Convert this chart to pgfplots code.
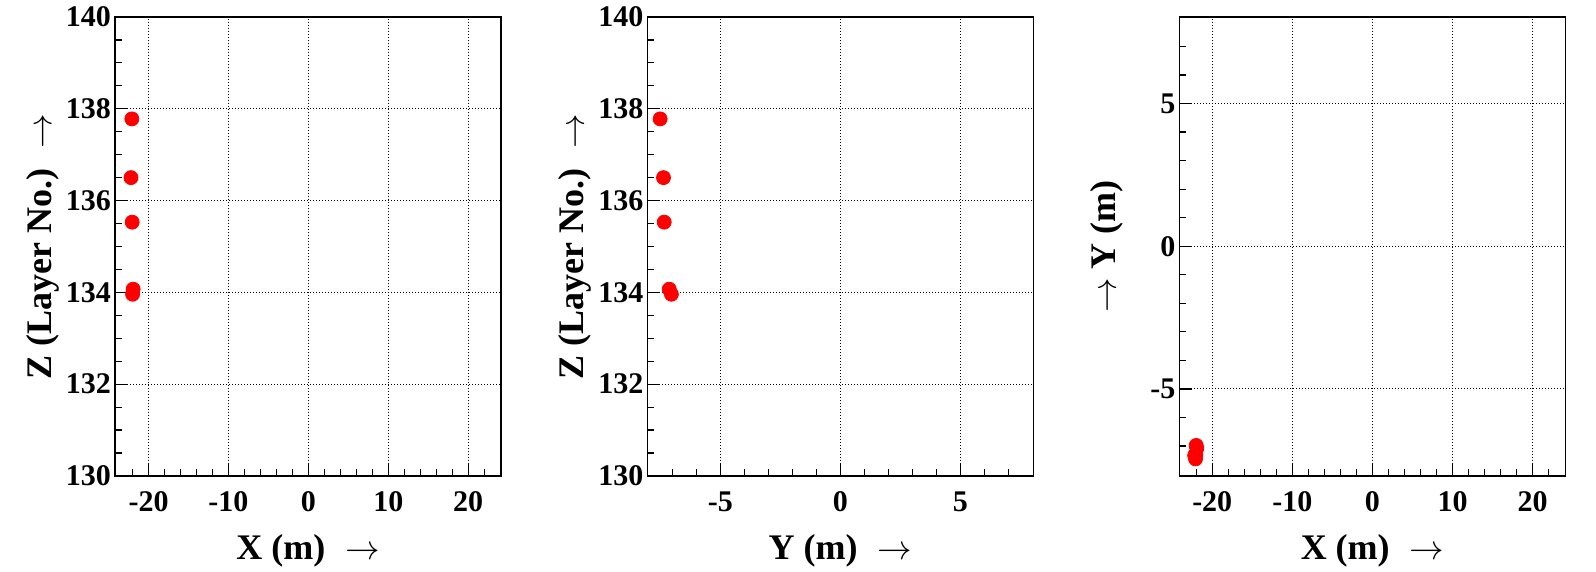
\documentclass[border=0pt]{standalone}
\usepackage{fontspec}
\setmainfont{Liberation Serif}
\usepackage{pgfplots}
\pgfplotsset{compat=1.18}

% ROOT-like frame: inside ticks on bottom/left, dotted major grid
\pgfplotsset{
  rootpad/.style={
    scale only axis, width=193pt, height=229.5pt,
    axis line style={black, line width=0.6pt},
    tick align=inside, tick pos=left,
    major tick length=6.5pt, minor tick length=3.5pt,
    every tick/.style={black, line width=0.6pt},
    grid=major,
    major grid style={black, line width=0.5pt, dash pattern=on 0.5pt off 1pt},
    ticklabel style={font=\fontsize{15}{15}\selectfont\bfseries},
    xticklabel style={anchor=north, inner sep=0pt, yshift=-7.8pt},
    yticklabel style={anchor=east, inner sep=0pt, xshift=-1.8pt},
    label style={font=\fontsize{18}{18}\selectfont\bfseries},
    xlabel style={at={(axis description cs:0.5,-0.181)}, anchor=base},
    ylabel style={at={(axis description cs:-0.187,0.5)}, anchor=center},
  },
  hits/.style={only marks, mark=*, mark size=3.5pt, color=red, mark options={fill=red, draw=red}},
}

\begin{document}
\begin{tikzpicture}
\useasboundingbox (0,0) rectangle (798pt,286pt);

% X vs Z
\begin{axis}[rootpad, at={(57.5pt,48pt)}, anchor=south west,
  xmin=-24.2, xmax=24.1, ymin=130, ymax=140,
  xtick={-20,-10,0,10,20}, xticklabels={-20,-10,0,10,20},
  minor xtick={-22,-20,...,22},
  ytick={130,132,134,136,138,140}, yticklabels={130,132,134,136,138,140},
  minor ytick={130,130.5,...,140},
  xlabel={X (m)\hspace{0.55em}$\rightarrow$},
  ylabel={Z (Layer No.)\hspace{0.55em}$\rightarrow$}]
\addplot[hits] coordinates {(-22.09,137.78) (-22.20,136.50) (-22.05,135.53) (-21.93,134.07) (-22.00,133.96)};
\end{axis}

% Y vs Z
\begin{axis}[rootpad, at={(323.7pt,48pt)}, anchor=south west,
  xmin=-8.04, xmax=8.04, ymin=130, ymax=140,
  xtick={-5,0,5}, xticklabels={-5,0,5},
  minor xtick={-7,-6,...,7},
  ytick={130,132,134,136,138,140}, yticklabels={130,132,134,136,138,140},
  minor ytick={130,130.5,...,140},
  xlabel={Y (m)\hspace{0.55em}$\rightarrow$},
  ylabel={Z (Layer No.)\hspace{0.55em}$\rightarrow$}]
\addplot[hits] coordinates {(-7.51,137.78) (-7.37,136.50) (-7.34,135.53) (-7.13,134.07) (-7.04,133.96)};
\end{axis}

% X vs Y
\begin{axis}[rootpad, at={(589.7pt,48pt)}, anchor=south west,
  xmin=-24.1, xmax=24.1, ymin=-8.05, ymax=8.03,
  xtick={-20,-10,0,10,20}, xticklabels={-20,-10,0,10,20},
  minor xtick={-22,-20,...,22},
  ytick={-5,0,5}, yticklabels={-5,0,5},
  minor ytick={-7,-6,...,7},
  xlabel={X (m)\hspace{0.55em}$\rightarrow$},
  ylabel={$\rightarrow$ Y (m)}]
\addplot[hits] coordinates {(-22.09,-7.45) (-22.20,-7.33) (-22.05,-7.30) (-21.93,-7.08) (-22.00,-6.98)};
\end{axis}
\end{tikzpicture}
\end{document}
